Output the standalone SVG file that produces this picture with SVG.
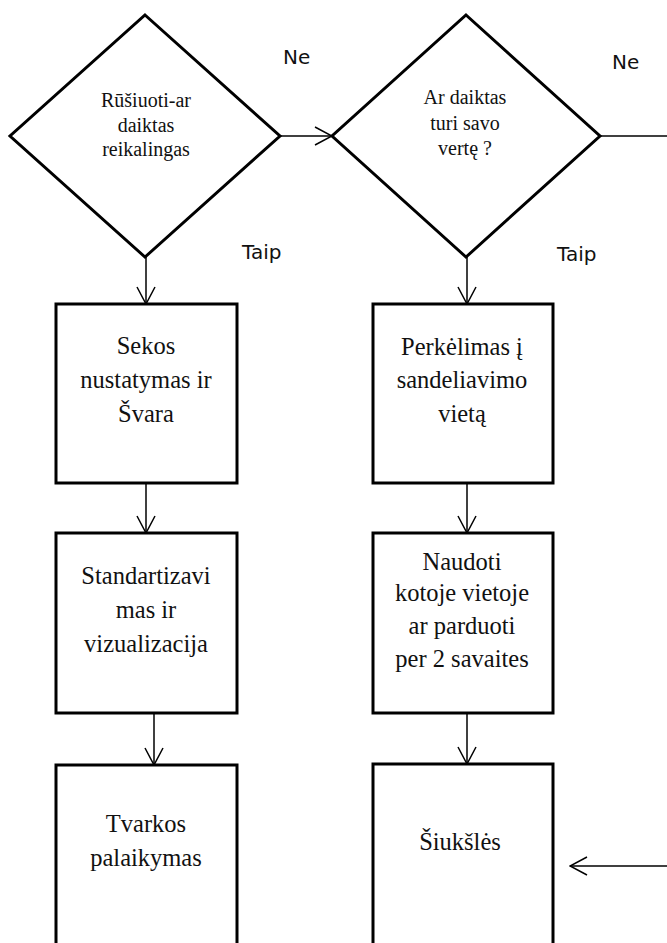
<svg xmlns="http://www.w3.org/2000/svg" width="667" height="943" viewBox="0 0 667 943">
<style>
.shape{fill:#fff;stroke:#000;stroke-width:3;stroke-linejoin:miter}
.conn{fill:none;stroke:#000;stroke-width:1.5}
.t{font-family:"Liberation Serif","Times New Roman",serif;fill:#111;text-anchor:middle}
.d{font-size:20px}
.b{font-size:24.5px}
.lbl{font-family:"DejaVu Sans",Verdana,sans-serif;font-size:20px;fill:#111}
</style>
<defs>
<marker id="arr" viewBox="0 0 20 20" refX="19" refY="10" markerWidth="20" markerHeight="20" markerUnits="userSpaceOnUse" orient="auto">
<path d="M2,1 L19,10 L2,19" fill="none" stroke="#000" stroke-width="1.5"/>
</marker>
</defs>
<g id="connectors">
<line class="conn" x1="280" y1="136" x2="332" y2="136" marker-end="url(#arr)"/>
<line class="conn" x1="600" y1="136" x2="667" y2="136"/>
<line class="conn" x1="146" y1="257" x2="146" y2="304" marker-end="url(#arr)"/>
<line class="conn" x1="467" y1="257" x2="467" y2="304" marker-end="url(#arr)"/>
<line class="conn" x1="146" y1="483" x2="146" y2="533" marker-end="url(#arr)"/>
<line class="conn" x1="467" y1="483" x2="467" y2="533" marker-end="url(#arr)"/>
<line class="conn" x1="154" y1="713" x2="154" y2="765" marker-end="url(#arr)"/>
<line class="conn" x1="467" y1="713" x2="467" y2="764" marker-end="url(#arr)"/>
<line class="conn" x1="667" y1="866" x2="570" y2="866" marker-end="url(#arr)"/>
<text class="lbl" x="283" y="64">Ne</text>
<text class="lbl" x="612" y="69">Ne</text>
<text class="lbl" x="242" y="259">Taip</text>
<text class="lbl" x="557" y="261">Taip</text>
</g>
<g id="d1">
<polygon class="shape" points="145,15 280,136 145,257 10,136"/>
<text class="t d" x="146" y="107">Rūšiuoti-ar</text>
<text class="t d" x="146" y="132">daiktas</text>
<text class="t d" x="146" y="156">reikalingas</text>
</g>
<g id="d2">
<polygon class="shape" points="466,15 600,136 466,257 332,136"/>
<text class="t d" x="465" y="104">Ar daiktas</text>
<text class="t d" x="465" y="130">turi savo</text>
<text class="t d" x="465" y="155">vertę ?</text>
</g>
<g id="b1">
<rect class="shape" x="56" y="304" width="181" height="179"/>
<text class="t b" x="146" y="354">Sekos</text>
<text class="t b" x="146" y="388">nustatymas ir</text>
<text class="t b" x="146" y="422">Švara</text>
</g>
<g id="b2">
<rect class="shape" x="56" y="533" width="181" height="180"/>
<text class="t b" x="146" y="584">Standartizavi</text>
<text class="t b" x="146" y="618">mas ir</text>
<text class="t b" x="146" y="652">vizualizacija</text>
</g>
<g id="b3">
<rect class="shape" x="56" y="765" width="181" height="185"/>
<text class="t b" x="146" y="832">Tvarkos</text>
<text class="t b" x="146" y="866">palaikymas</text>
</g>
<g id="b4">
<rect class="shape" x="373" y="304" width="180" height="179"/>
<text class="t b" x="462" y="355">Perkėlimas į</text>
<text class="t b" x="462" y="388">sandeliavimo</text>
<text class="t b" x="462" y="422">vietą</text>
</g>
<g id="b5">
<rect class="shape" x="373" y="533" width="180" height="180"/>
<text class="t b" x="462" y="570">Naudoti</text>
<text class="t b" x="462" y="601">kotoje vietoje</text>
<text class="t b" x="462" y="634">ar parduoti</text>
<text class="t b" x="462" y="667">per 2 savaites</text>
</g>
<g id="b6">
<rect class="shape" x="373" y="764" width="180" height="186"/>
<text class="t b" x="460" y="850">Šiukšlės</text>
</g>
</svg>
